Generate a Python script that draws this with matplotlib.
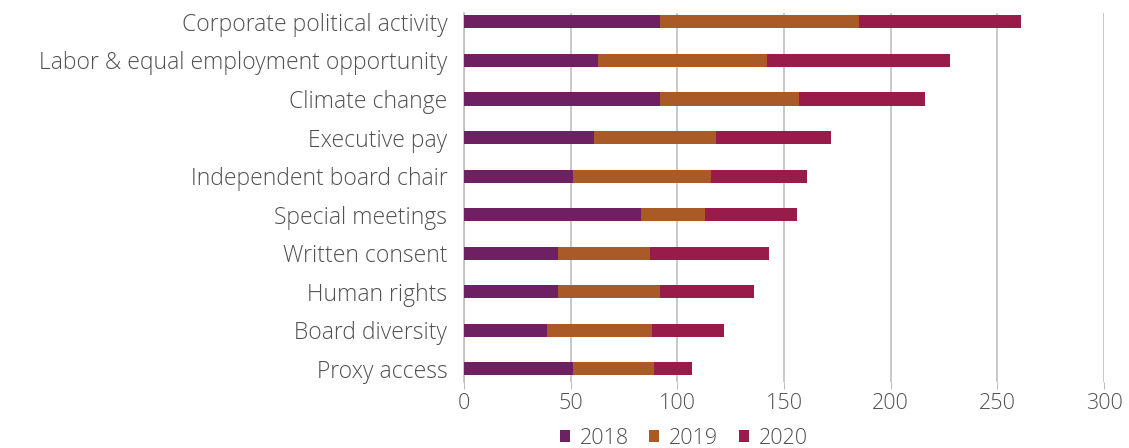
import matplotlib
matplotlib.use("Agg")
import matplotlib.pyplot as plt
import numpy as np

categories = ["Corporate political activity", "Labor & equal employment opportunity",
              "Climate change", "Executive pay", "Independent board chair",
              "Special meetings", "Written consent", "Human rights",
              "Board diversity", "Proxy access"]
v2018 = [92, 63, 92, 61, 51, 83, 44, 44, 39, 51]
v2019 = [93, 79, 65, 57, 65, 30, 43, 48, 49, 38]
v2020 = [76, 86, 59, 54, 45, 43, 56, 44, 34, 18]
series_labels = ["2018", "2019", "2020"]
colors = ["#6F2063", "#A95A27", "#981B4A"]
xticks = [0, 50, 100, 150, 200, 250, 300]

plt.rcParams['font.family'] = ['Open Sans', 'DejaVu Sans']
txt = "#505050"
fw = 'light'

fig = plt.figure(figsize=(11.29, 4.48), dpi=100)
ax = fig.add_axes([464/1129, 1-382/448, 640/1129, 369/448])

y = np.arange(len(categories))
left = np.zeros(len(categories))
for vals, lab, c in zip([v2018, v2019, v2020], series_labels, colors):
    ax.barh(y, vals, left=left, height=0.34, color=c, label=lab, zorder=3)
    left = left + np.array(vals)

ax.set_xlim(0, 300)
ax.set_ylim(9.34, -0.23)
ax.set_yticks(y)
ax.set_yticklabels(categories, fontsize=16.5, color=txt, fontweight=fw)
ax.set_xticks(xticks)
ax.set_xticklabels([str(t) for t in xticks], fontsize=15.5, color=txt, fontweight=fw)
ax.tick_params(axis='y', length=0, pad=12)
ax.tick_params(axis='x', length=5, color="#BFBFBF", pad=3)
ax.xaxis.grid(True, color="#BFBFBF", linewidth=1.2, zorder=0)
for s in ['top', 'right', 'bottom']:
    ax.spines[s].set_visible(False)
ax.spines['left'].set_color("#BFBFBF")
ax.spines['left'].set_linewidth(1.2)

leg = fig.legend(loc='lower center', bbox_to_anchor=(0.6055, -0.045), ncol=3, frameon=False,
                 fontsize=15.5, handlelength=0.48, handleheight=0.48, columnspacing=0.95,
                 handletextpad=0.45)
for t in leg.get_texts():
    t.set_color(txt)
    t.set_fontweight(fw)

fig.savefig("out.png", dpi=100)
